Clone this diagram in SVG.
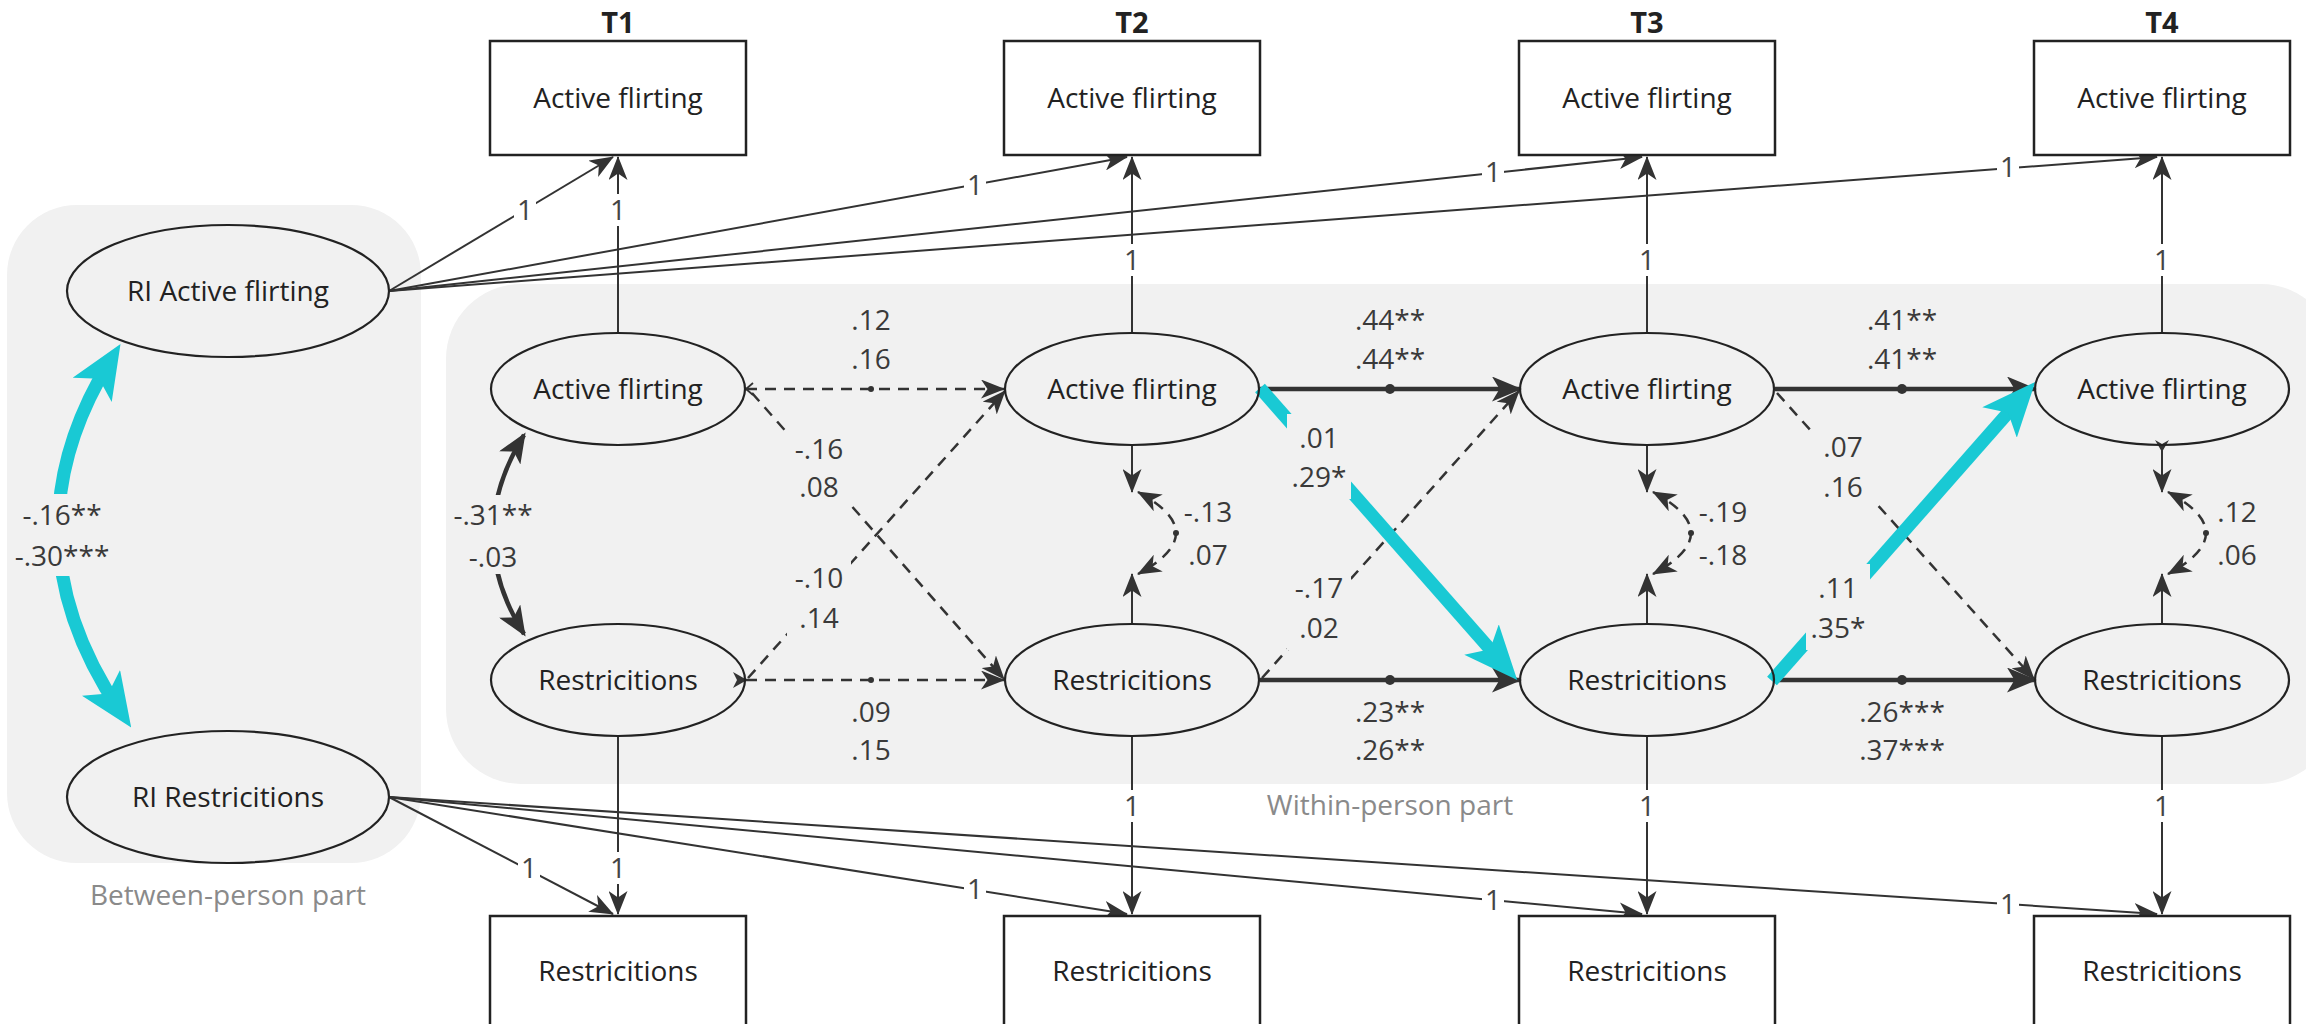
<svg xmlns="http://www.w3.org/2000/svg" width="2306" height="1024" viewBox="0 0 2306 1024">
  <style>
    .panel { fill: #f1f1f1; }
    .box { fill: #ffffff; stroke: #222; stroke-width: 2.5; }
    .ell { fill: none; stroke: #222; stroke-width: 2.2; }
    .node { font-family: "Open Sans", "DejaVu Sans", sans-serif; font-size: 28px; fill: #222; text-anchor: middle; }
    .tlab { font-family: "Open Sans", "DejaVu Sans", sans-serif; font-size: 29px; font-weight: 700; fill: #222; text-anchor: middle; }
    .part { font-family: "Open Sans", "DejaVu Sans", sans-serif; font-size: 28px; fill: #8a8a8a; text-anchor: middle; }
    .coef { font-family: "Open Sans", "DejaVu Sans", sans-serif; font-size: 28px; fill: #3a3a3a; text-anchor: middle; }
    .one { font-family: "Open Sans", "DejaVu Sans", sans-serif; font-size: 28px; fill: #444; text-anchor: middle; }
    .thin { fill: none; stroke: #333; stroke-width: 2; }
    .dash { fill: none; stroke: #333; stroke-width: 2.5; stroke-dasharray: 11 8; }
    .thick { fill: none; stroke: #333; stroke-width: 4.5; }
    .cyan { fill: none; stroke: #19c9d4; stroke-width: 13; }
    .bgw { fill: #ffffff; }
    .bgp { fill: #f1f1f1; }
    .dot { fill: #333; }
  </style>
  <defs>
    <marker id="ah" viewBox="0 0 24 19" refX="23" refY="9.5" markerWidth="24" markerHeight="19" markerUnits="userSpaceOnUse" orient="auto">
      <path d="M0,0 L24,9.5 L0,19 L6.5,9.5 Z" fill="#333"/>
    </marker>
    <marker id="ah2" viewBox="0 0 24 19" refX="23" refY="9.5" markerWidth="24" markerHeight="19" markerUnits="userSpaceOnUse" orient="auto-start-reverse">
      <path d="M0,0 L24,9.5 L0,19 L6.5,9.5 Z" fill="#333"/>
    </marker>
    <marker id="ahk" viewBox="0 0 30 25" refX="27" refY="12.5" markerWidth="30" markerHeight="25" markerUnits="userSpaceOnUse" orient="auto">
      <path d="M0,0 L30,12.5 L0,25 L7.5,12.5 Z" fill="#333"/>
    </marker>
    <marker id="ahk2" viewBox="0 0 30 25" refX="27" refY="12.5" markerWidth="30" markerHeight="25" markerUnits="userSpaceOnUse" orient="auto-start-reverse">
      <path d="M0,0 L30,12.5 L0,25 L7.5,12.5 Z" fill="#333"/>
    </marker>
    <marker id="ahc" viewBox="0 0 54 46" refX="34" refY="23" markerWidth="54" markerHeight="46" markerUnits="userSpaceOnUse" orient="auto">
      <path d="M0,0 L54,23 L0,46 L13,23 Z" fill="#19c9d4"/>
    </marker>
    <marker id="ahc2" viewBox="0 0 54 46" refX="34" refY="23" markerWidth="54" markerHeight="46" markerUnits="userSpaceOnUse" orient="auto-start-reverse">
      <path d="M0,0 L54,23 L0,46 L13,23 Z" fill="#19c9d4"/>
    </marker>
  </defs>

  <!-- background panels -->
  <g id="between-panel">
    <rect class="panel" x="7" y="205" width="414" height="658" rx="70"/>
    <text class="part" x="228" y="905">Between-person part</text>
  </g>
  <g id="within-panel">
    <rect class="panel" x="446" y="284" width="1890" height="500" rx="75"/>
    <text class="part" x="1390" y="815">Within-person part</text>
  </g>

  <!-- time labels -->
  <g id="time-labels">
    <text class="tlab" x="618" y="33">T1</text>
    <text class="tlab" x="1132" y="33">T2</text>
    <text class="tlab" x="1647" y="33">T3</text>
    <text class="tlab" x="2162" y="33">T4</text>
  </g>

  <!-- connectors -->
  <g id="connectors">
    <!-- random intercept loadings -->
    <path class="thin" d="M389,291 L613,157" marker-end="url(#ah)"/>
    <path class="thin" d="M389,291 L1127,157" marker-end="url(#ah)"/>
    <path class="thin" d="M389,291 L1642,157" marker-end="url(#ah)"/>
    <path class="thin" d="M389,291 L2157,157" marker-end="url(#ah)"/>
    <path class="thin" d="M389,797 L613,914" marker-end="url(#ah)"/>
    <path class="thin" d="M389,797 L1127,914" marker-end="url(#ah)"/>
    <path class="thin" d="M389,797 L1642,914" marker-end="url(#ah)"/>
    <path class="thin" d="M389,797 L2157,914" marker-end="url(#ah)"/>

    <!-- within-person loadings -->
    <path class="thin" d="M618,333 L618,157" marker-end="url(#ah)"/>
    <path class="thin" d="M1132,333 L1132,157" marker-end="url(#ah)"/>
    <path class="thin" d="M1647,333 L1647,157" marker-end="url(#ah)"/>
    <path class="thin" d="M2162,333 L2162,157" marker-end="url(#ah)"/>
    <path class="thin" d="M618,736 L618,914" marker-end="url(#ah)"/>
    <path class="thin" d="M1132,736 L1132,914" marker-end="url(#ah)"/>
    <path class="thin" d="M1647,736 L1647,914" marker-end="url(#ah)"/>
    <path class="thin" d="M2162,736 L2162,914" marker-end="url(#ah)"/>

    <!-- between-person covariance -->
    <path class="cyan" d="M110,361 Q2,536 120,711" marker-start="url(#ahc2)" marker-end="url(#ahc)"/>
    <rect class="bgp" x="12" y="494" width="100" height="82"/>

    <!-- T1 within covariance -->
    <path class="thick" d="M524,435 Q462,535 524,634" marker-start="url(#ahk2)" marker-end="url(#ahk)"/>
    <rect class="bgp" x="450" y="495" width="86" height="79"/>

    <!-- autoregressive paths -->
    <path class="dash" d="M746,389 L1004,389" marker-end="url(#ah)"/>
    <path class="dash" d="M746,680 L1004,680" marker-end="url(#ah)"/>
    <path class="thick" d="M1260,389 L1519,389" marker-end="url(#ahk)"/>
    <path class="thick" d="M1775,389 L2034,389" marker-end="url(#ahk)"/>
    <path class="thick" d="M1260,680 L1519,680" marker-end="url(#ahk)"/>
    <path class="thick" d="M1775,680 L2034,680" marker-end="url(#ahk)"/>
    <circle class="dot" cx="871" cy="389" r="3"/>
    <circle class="dot" cx="871" cy="680" r="3"/>
    <circle class="dot" cx="1390" cy="389" r="5"/>
    <circle class="dot" cx="1902" cy="389" r="5"/>
    <circle class="dot" cx="1390" cy="680" r="5"/>
    <circle class="dot" cx="1902" cy="680" r="5"/>

    <!-- cross-lagged paths -->
    <path class="dash" d="M752,393 L1004,679" marker-end="url(#ah)"/>
    <path class="dash" d="M748,678 L1005,391" marker-end="url(#ah)"/>
    <path class="dash" d="M1262,678 L1519,391" marker-end="url(#ah)"/>
    <path class="dash" d="M1777,393 L2034,679" marker-end="url(#ah)"/>
    <path class="cyan" d="M1260,388 L1504,665" marker-end="url(#ahc)"/>
    <path class="cyan" d="M1772,681 L2022,397" marker-end="url(#ahc)"/>
    <rect class="bgp" x="787" y="427" width="64" height="82"/>
    <rect class="bgp" x="787" y="554" width="64" height="86"/>
    <rect class="bgp" x="1287" y="414" width="64" height="85"/>
    <rect class="bgp" x="1287" y="564" width="64" height="86"/>
    <rect class="bgp" x="1811" y="423" width="64" height="86"/>
    <rect class="bgp" x="1806" y="564" width="64" height="86"/>

    <!-- tail marks at T1 -->
    <path d="M753,383 L746,389 L753,395" fill="none" stroke="#333" stroke-width="1.8"/>
    <path d="M733,672 L747,680 L733,688 L737,680 Z" fill="#333"/>

    <!-- residual covariances T2-T4 -->
    <path class="thin" d="M1132,445 L1132,492" marker-end="url(#ah)"/>
    <path class="thin" d="M1132,623 L1132,574" marker-end="url(#ah)"/>
    <path class="dash" d="M1138,492 Q1214,533 1138,574" marker-start="url(#ah2)" marker-end="url(#ah2)"/>
    <circle class="dot" cx="1176" cy="533" r="3"/>
    <path class="thin" d="M1647,445 L1647,492" marker-end="url(#ah)"/>
    <path class="thin" d="M1647,623 L1647,574" marker-end="url(#ah)"/>
    <path class="dash" d="M1653,492 Q1729,533 1653,574" marker-start="url(#ah2)" marker-end="url(#ah2)"/>
    <circle class="dot" cx="1691" cy="533" r="3"/>
    <path class="thin" d="M2162,445 L2162,492" marker-end="url(#ah)"/>
    <path class="thin" d="M2162,623 L2162,574" marker-end="url(#ah)"/>
    <path class="dash" d="M2168,492 Q2244,533 2168,574" marker-start="url(#ah2)" marker-end="url(#ah2)"/>
    <circle class="dot" cx="2206" cy="533" r="3"/>
    <path d="M2155,440 L2162,452 L2169,440 L2162,444 Z" fill="#333"/>

    <!-- loading labels -->
    <rect class="bgw" x="514" y="194" width="22" height="32"/>
    <text class="one" x="525" y="220">1</text>
    <rect class="bgw" x="964" y="169" width="22" height="32"/>
    <text class="one" x="975" y="195">1</text>
    <rect class="bgw" x="1482" y="156" width="22" height="32"/>
    <text class="one" x="1493" y="182">1</text>
    <rect class="bgw" x="1997" y="151" width="22" height="32"/>
    <text class="one" x="2008" y="177">1</text>
    <rect class="bgw" x="518" y="852" width="22" height="32"/>
    <text class="one" x="529" y="878">1</text>
    <rect class="bgw" x="964" y="873" width="22" height="32"/>
    <text class="one" x="975" y="899">1</text>
    <rect class="bgw" x="1482" y="884" width="22" height="32"/>
    <text class="one" x="1493" y="910">1</text>
    <rect class="bgw" x="1997" y="888" width="22" height="32"/>
    <text class="one" x="2008" y="914">1</text>

    <rect class="bgw" x="607" y="194" width="22" height="32"/>
    <text class="one" x="618" y="220">1</text>
    <rect class="bgw" x="1121" y="244" width="22" height="32"/>
    <text class="one" x="1132" y="270">1</text>
    <rect class="bgw" x="1636" y="244" width="22" height="32"/>
    <text class="one" x="1647" y="270">1</text>
    <rect class="bgw" x="2151" y="244" width="22" height="32"/>
    <text class="one" x="2162" y="270">1</text>
    <rect class="bgw" x="607" y="852" width="22" height="32"/>
    <text class="one" x="618" y="878">1</text>
    <rect class="bgw" x="1121" y="790" width="22" height="32"/>
    <text class="one" x="1132" y="816">1</text>
    <rect class="bgw" x="1636" y="790" width="22" height="32"/>
    <text class="one" x="1647" y="816">1</text>
    <rect class="bgw" x="2151" y="790" width="22" height="32"/>
    <text class="one" x="2162" y="816">1</text>

    <!-- coefficient labels -->
    <text class="coef" x="62" y="525">-.16**</text>
    <text class="coef" x="62" y="566">-.30***</text>
    <text class="coef" x="493" y="525">-.31**</text>
    <text class="coef" x="493" y="567">-.03</text>

    <text class="coef" x="871" y="330">.12</text>
    <text class="coef" x="871" y="369">.16</text>
    <text class="coef" x="871" y="722">.09</text>
    <text class="coef" x="871" y="760">.15</text>
    <text class="coef" x="1390" y="330">.44**</text>
    <text class="coef" x="1390" y="369">.44**</text>
    <text class="coef" x="1902" y="330">.41**</text>
    <text class="coef" x="1902" y="369">.41**</text>
    <text class="coef" x="1390" y="722">.23**</text>
    <text class="coef" x="1390" y="760">.26**</text>
    <text class="coef" x="1902" y="722">.26***</text>
    <text class="coef" x="1902" y="760">.37***</text>

    <text class="coef" x="819" y="459">-.16</text>
    <text class="coef" x="819" y="497">.08</text>
    <text class="coef" x="819" y="588">-.10</text>
    <text class="coef" x="819" y="628">.14</text>
    <text class="coef" x="1319" y="448">.01</text>
    <text class="coef" x="1319" y="487">.29*</text>
    <text class="coef" x="1319" y="598">-.17</text>
    <text class="coef" x="1319" y="638">.02</text>
    <text class="coef" x="1843" y="457">.07</text>
    <text class="coef" x="1843" y="497">.16</text>
    <text class="coef" x="1838" y="598">.11</text>
    <text class="coef" x="1838" y="638">.35*</text>

    <text class="coef" x="1208" y="522">-.13</text>
    <text class="coef" x="1208" y="565">.07</text>
    <text class="coef" x="1723" y="522">-.19</text>
    <text class="coef" x="1723" y="565">-.18</text>
    <text class="coef" x="2237" y="522">.12</text>
    <text class="coef" x="2237" y="565">.06</text>
  </g>

  <!-- nodes -->
  <g id="ri-active-flirting">
    <ellipse class="ell" cx="228" cy="291" rx="161" ry="66"/>
    <text class="node" x="228" y="301">RI Active flirting</text>
  </g>
  <g id="ri-restrictions">
    <ellipse class="ell" cx="228" cy="797" rx="161" ry="66"/>
    <text class="node" x="228" y="807">RI Restricitions</text>
  </g>

  <g id="obs-af-t1"><rect class="box" x="490" y="41" width="256" height="114"/><text class="node" x="618" y="108">Active flirting</text></g>
  <g id="obs-af-t2"><rect class="box" x="1004" y="41" width="256" height="114"/><text class="node" x="1132" y="108">Active flirting</text></g>
  <g id="obs-af-t3"><rect class="box" x="1519" y="41" width="256" height="114"/><text class="node" x="1647" y="108">Active flirting</text></g>
  <g id="obs-af-t4"><rect class="box" x="2034" y="41" width="256" height="114"/><text class="node" x="2162" y="108">Active flirting</text></g>

  <g id="obs-re-t1"><rect class="box" x="490" y="916" width="256" height="114"/><text class="node" x="618" y="981">Restricitions</text></g>
  <g id="obs-re-t2"><rect class="box" x="1004" y="916" width="256" height="114"/><text class="node" x="1132" y="981">Restricitions</text></g>
  <g id="obs-re-t3"><rect class="box" x="1519" y="916" width="256" height="114"/><text class="node" x="1647" y="981">Restricitions</text></g>
  <g id="obs-re-t4"><rect class="box" x="2034" y="916" width="256" height="114"/><text class="node" x="2162" y="981">Restricitions</text></g>

  <g id="lat-af-t1"><ellipse class="ell" cx="618" cy="389" rx="127" ry="56"/><text class="node" x="618" y="399">Active flirting</text></g>
  <g id="lat-af-t2"><ellipse class="ell" cx="1132" cy="389" rx="127" ry="56"/><text class="node" x="1132" y="399">Active flirting</text></g>
  <g id="lat-af-t3"><ellipse class="ell" cx="1647" cy="389" rx="127" ry="56"/><text class="node" x="1647" y="399">Active flirting</text></g>
  <g id="lat-af-t4"><ellipse class="ell" cx="2162" cy="389" rx="127" ry="56"/><text class="node" x="2162" y="399">Active flirting</text></g>

  <g id="lat-re-t1"><ellipse class="ell" cx="618" cy="680" rx="127" ry="56"/><text class="node" x="618" y="690">Restricitions</text></g>
  <g id="lat-re-t2"><ellipse class="ell" cx="1132" cy="680" rx="127" ry="56"/><text class="node" x="1132" y="690">Restricitions</text></g>
  <g id="lat-re-t3"><ellipse class="ell" cx="1647" cy="680" rx="127" ry="56"/><text class="node" x="1647" y="690">Restricitions</text></g>
  <g id="lat-re-t4"><ellipse class="ell" cx="2162" cy="680" rx="127" ry="56"/><text class="node" x="2162" y="690">Restricitions</text></g>
</svg>
